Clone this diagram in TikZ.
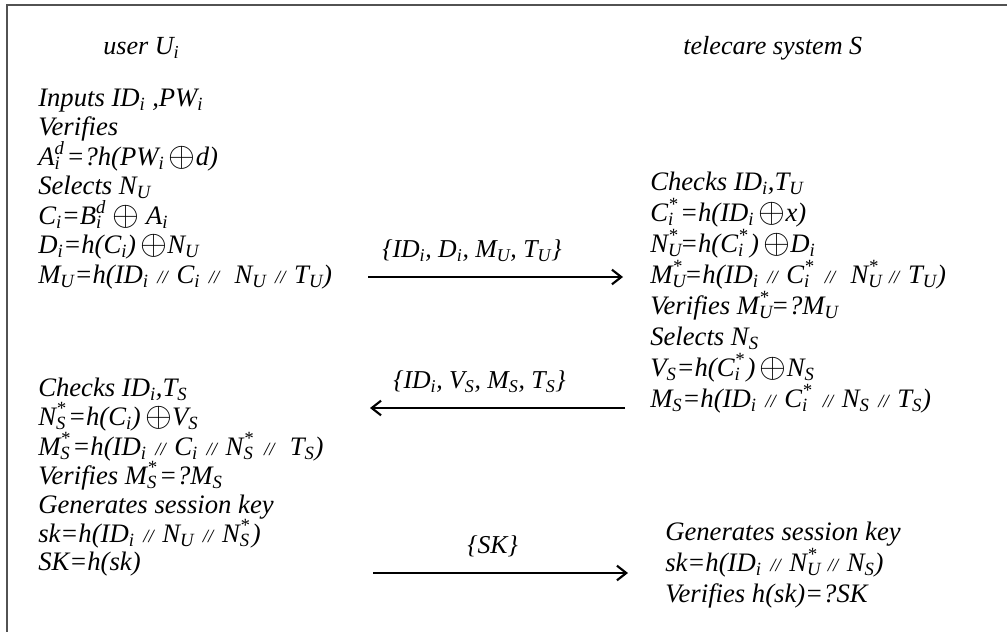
\documentclass[tikz,border=0pt]{standalone}
\usepackage{fontspec}
\setmainfont{Liberation Serif}
\usetikzlibrary{arrows.meta}
\newcommand\sub[1]{\textsubscript{#1}}
\newcommand\subsup[2]{\makebox[0pt][l]{\textsubscript{#1}}\textsuperscript{#2}\kern1.5pt}
\newcommand\xor{\,\raisebox{-0.1ex}{\scalebox{1.25}{$\oplus$}}}
\newcommand\cat{{\hspace{6.5pt}\fontsize{14}{14}\selectfont //\hspace{6.5pt}}}
\begin{document}
\begin{tikzpicture}[x=0.75pt,y=-0.75pt,
  txt/.style={anchor=base west,inner sep=0pt,font=\fontsize{20}{23}\selectfont\itshape},
  head/.style={anchor=base west,inner sep=0pt,font=\fontsize{19.6}{23}\selectfont\itshape},
  lab/.style={anchor=base west,inner sep=0pt,font=\fontsize{19.3}{23}\selectfont\itshape},
  msg/.style={line width=1.6pt,-{Straight Barb[length=7pt,width=11pt,line width=1.6pt]}},
  frame/.style={draw=black!68,line width=1.6pt}]
\useasboundingbox (0,0) rectangle (1007,632);
\draw[frame] (7,632) -- (7,5) -- (1007,5);
% headers
\node[head] (hu) at (103,54) {user U\sub{i}};
\node[head] (hs) at (683,54) {telecare system S};
% left top block
\node[txt] (u1) at (38,106) {Inputs ID\sub{i} ,PW\sub{i}};
\node[txt] (u2) at (38,135.5) {Verifies};
\node[txt] (u3) at (38,165) {A\subsup{i}{d}=?h(PW\sub{i}\xor d)};
\node[txt] (u4) at (38,194.5) {Selects N\sub{U}};
\node[txt] (u5) at (38,224) {C\sub{i}=B\subsup{i}{d} \xor\ A\sub{i}};
\node[txt] (u6) at (38,253.5) {D\sub{i}=h(C\sub{i})\xor N\sub{U}};
\node[txt] (u7) at (38,283) {M\sub{U}=h(ID\sub{i}\cat C\sub{i}\cat\ N\sub{U}\cat T\sub{U})};
% right top block
\node[txt] (s1) at (650,190) {Checks ID\sub{i},T\sub{U}};
\node[txt] (s2) at (650,221) {C\subsup{i}{*}=h(ID\sub{i}\xor x)};
\node[txt] (s3) at (650,252) {N\subsup{U}{*}=h(C\subsup{i}{*})\xor D\sub{i}};
\node[txt] (s4) at (650,283) {M\subsup{U}{*}=h(ID\sub{i}\cat C\subsup{i}{*}\cat\ N\subsup{U}{*}\cat T\sub{U})};
\node[txt] (s5) at (650,314) {Verifies M\subsup{U}{*}=?M\sub{U}};
\node[txt] (s6) at (650,345) {Selects N\sub{S}};
\node[txt] (s7) at (650,376) {V\sub{S}=h(C\subsup{i}{*})\xor N\sub{S}};
\node[txt] (s8) at (650,407) {M\sub{S}=h(ID\sub{i}\cat C\subsup{i}{*}\cat N\sub{S}\cat T\sub{S})};
% left bottom block
\node[txt] (v1) at (38,396) {Checks ID\sub{i},T\sub{S}};
\node[txt] (v2) at (38,425) {N\subsup{S}{*}=h(C\sub{i})\xor V\sub{S}};
\node[txt] (v3) at (38,455) {M\subsup{S}{*}=h(ID\sub{i}\cat C\sub{i}\cat N\subsup{S}{*}\cat\ T\sub{S})};
\node[txt] (v4) at (38,484) {Verifies M\subsup{S}{*}=?M\sub{S}};
\node[txt] (v5) at (38,513) {Generates session key};
\node[txt] (v6) at (38,542) {sk=h(ID\sub{i}\cat N\sub{U}\cat N\subsup{S}{*})};
\node[txt] (v7) at (38,570) {SK=h(sk)};
% right bottom block
\node[txt] (w1) at (665,540) {Generates session key};
\node[txt] (w2) at (665,571) {sk=h(ID\sub{i}\cat N\subsup{U}{*}\cat N\sub{S})};
\node[txt] (w3) at (665,602) {Verifies h(sk)=?SK};
% messages
\coordinate (m1a) at (368,277); \coordinate (m1b) at (623,277);
\coordinate (m2a) at (625,408); \coordinate (m2b) at (370,408);
\coordinate (m3a) at (373,573); \coordinate (m3b) at (628,573);
\draw[msg] (m1a) -- (m1b);
\draw[msg] (m2a) -- (m2b);
\draw[msg] (m3a) -- (m3b);
\node[lab] (l1) at (382,257) {\{ID\sub{i}, D\sub{i}, M\sub{U}, T\sub{U}\}};
\node[lab] (l2) at (393,388) {\{ID\sub{i}, V\sub{S}, M\sub{S}, T\sub{S}\}};
\node[lab] (l3) at (467,553) {\{SK\}};
\end{tikzpicture}
\end{document}
